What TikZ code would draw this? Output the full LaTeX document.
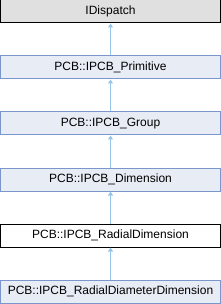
\documentclass[tikz,border=0pt]{standalone}
\usepackage{fontspec}
\setmainfont{Liberation Sans}
\usepackage{xcolor}
\usetikzlibrary{arrows.meta}
\definecolor{boxfill}{HTML}{E8ECF5}
\definecolor{boxline}{HTML}{7A96CC}
\definecolor{edgeblue}{HTML}{97C6E8}
\definecolor{basefill}{HTML}{E0E0E0}

\begin{document}
\begin{tikzpicture}[x=1pt, y=-1pt,
    cls/.style={draw=boxline, fill=boxfill, line width=1pt, minimum width=220pt,
        minimum height=23pt, inner sep=0pt, font=\fontsize{12}{14}\selectfont},
    ext/.style={cls, draw=black, fill=basefill},
    cur/.style={cls, draw=black, fill=white},
    inh/.style={draw=edgeblue, line width=1pt, {Triangle[length=4pt, width=5pt, fill=edgeblue]}-}]
    \useasboundingbox (0,0) rectangle (221,304);

    % Klassen
    \node[ext] (idisp) at (110.5,11.5) {IDispatch};
    \node[cls] (prim) at (110.5,67.5) {PCB::IPCB\_Primitive};
    \node[cls] (grp) at (110.5,123.5) {PCB::IPCB\_Group};
    \node[cls] (dim) at (110.5,179.5) {PCB::IPCB\_Dimension};
    \node[cur] (rad) at (110.5,235.5) {PCB::IPCB\_RadialDimension};
    \node[cls] (raddia) at (110.5,291.5) {PCB::IPCB\_RadialDiameterDimension};

    % Vererbung
    \draw[inh] (idisp) -- (prim);
    \draw[inh] (prim) -- (grp);
    \draw[inh] (grp) -- (dim);
    \draw[inh] (dim) -- (rad);
    \draw[inh] (rad) -- (raddia);
\end{tikzpicture}
\end{document}
